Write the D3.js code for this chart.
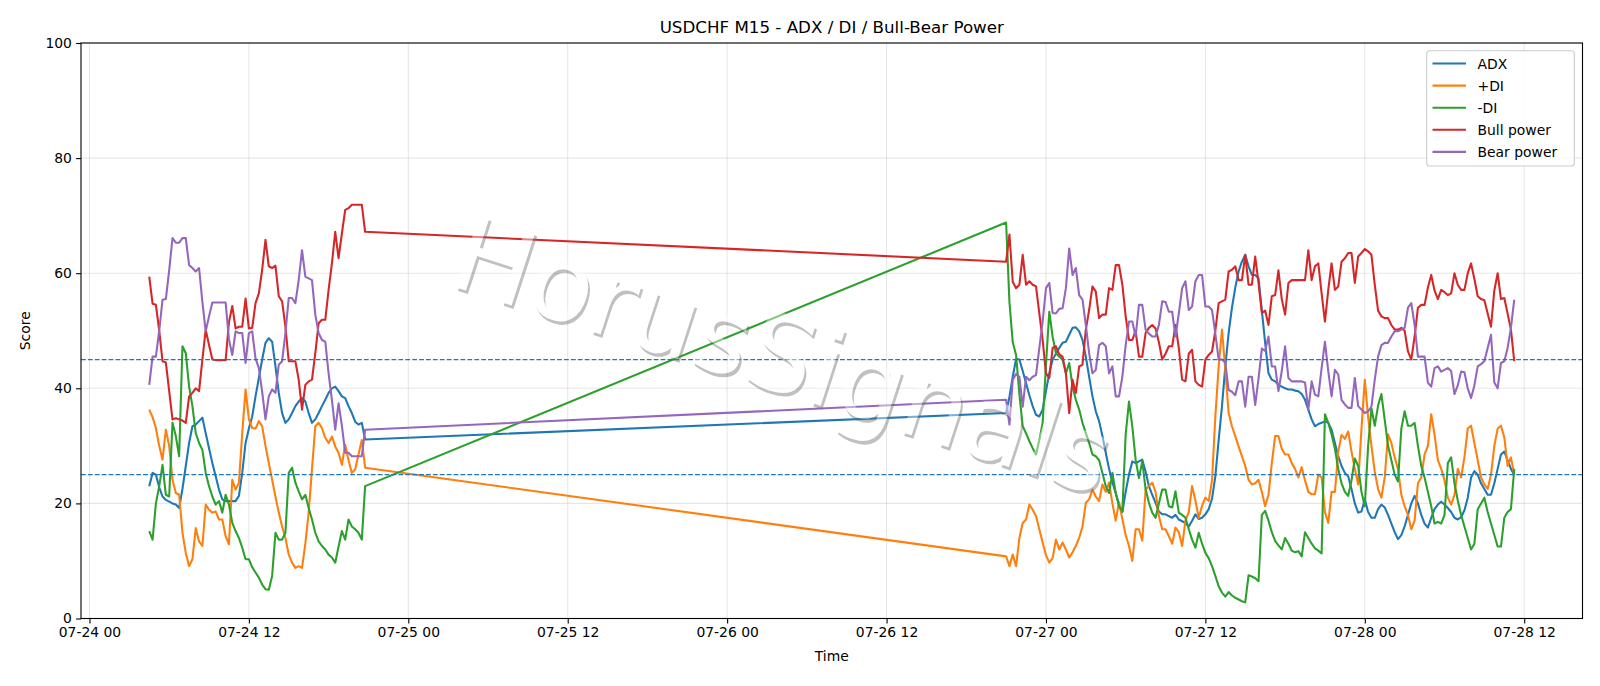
<!DOCTYPE html>
<html>
<head>
<meta charset="utf-8">
<script src="https://cdn.jsdelivr.net/npm/d3@7"></script>
<style>
  html, body { margin: 0; padding: 0; background: #ffffff; }
  svg { display: block; font-family: "DejaVu Sans", sans-serif; }
</style>
</head>
<body>
<svg id="chart" width="1600" height="686"></svg>
<script>
// ---------------- data ----------------
const sessionStarts = ["2025-07-24T04:30:00Z", "2025-07-26T21:00:00Z"];
const barMinutes = 15;

const seriesNames = ["ADX", "+DI", "-DI", "Bull power", "Bear power"];
const seriesColors = ["#1f77b4", "#ff7f0e", "#2ca02c", "#d62728", "#9467bd"];
const thresholdLevels = [45, 25];
const yTickValues = [0, 20, 40, 60, 80, 100];
const watermarkText = "HorusSignals";

// session A (07-24 04:30 .. 20:45)
const adxA = [23.0,25.3,25.0,22.8,21.2,20.6,20.3,20.0,19.8,19.2,
  22.5,26.5,30.5,33.4,33.7,34.3,34.9,32.2,29.6,27.0,
  24.7,22.4,20.7,20.4,20.4,20.4,20.4,21.3,25.3,30.5,
  33.0,35.1,38.6,41.8,45.0,47.9,48.7,48.1,43.8,39.2,
  35.7,34.0,34.6,35.7,36.9,37.7,38.3,37.7,35.7,34.0,
  34.6,35.7,36.9,38.0,39.2,40.0,40.3,39.5,38.6,38.3,
  36.9,35.7,34.2,33.7,34.0,31.1];
const pdiA = [36.3,35.0,33.1,30.0,27.6,32.8,30.0,24.1,21.8,21.5,
  14.9,11.4,9.1,10.3,15.7,13.4,12.6,19.8,18.9,18.4,
  18.6,17.2,17.2,14.3,12.9,24.1,22.4,23.6,32.2,39.8,
  34.6,33.1,33.0,34.3,33.4,30.0,27.0,24.1,21.2,18.4,
  16.0,14.0,11.1,9.7,8.8,9.1,8.8,13.0,18.4,26.0,
  33.4,34.0,33.1,31.4,30.5,31.6,29.9,28.8,26.7,30.2,
  27.5,25.3,25.9,28.5,31.0,26.2];
const mdiA = [15.2,13.7,20.0,23.0,26.7,21.5,21.2,34.0,31.7,28.2,
  47.3,46.1,40.3,36.9,32.2,30.5,29.3,25.3,23.0,21.2,
  19.8,20.4,18.4,21.5,19.8,16.6,15.2,14.0,12.3,10.3,
  10.3,8.9,8.0,7.1,5.9,5.1,5.0,7.4,14.9,13.7,
  13.7,14.9,25.3,26.2,23.6,22.1,20.7,21.5,19.2,17.2,
  14.9,13.4,12.6,12.0,11.1,10.6,9.7,12.5,15.2,13.7,
  17.2,16.0,15.5,14.9,13.7,23.0];
const bullA = [59.4,54.7,54.5,50.0,44.7,44.5,39.5,34.6,34.8,34.6,
  34.4,34.0,38.6,39.2,40.0,39.5,45.0,50.2,47.5,45.0,
  44.9,44.9,44.9,44.9,51.5,54.3,50.4,50.7,50.7,55.6,
  50.4,50.5,54.8,56.5,60.6,65.8,61.2,60.9,61.3,56.0,
  55.1,50.7,44.7,44.7,44.7,41.5,36.3,40.6,41.2,41.5,
  46.1,51.3,51.9,51.9,57.1,61.7,67.2,62.6,66.9,71.0,
  71.3,71.9,71.9,71.9,71.9,67.2];
const bearA = [40.6,45.5,45.5,50.0,55.4,55.5,60.5,66.1,65.3,65.3,
  66.1,66.1,61.4,60.9,60.3,60.9,55.0,49.9,52.5,54.9,
  54.9,54.9,54.9,54.9,48.5,45.8,49.9,49.6,49.6,44.4,
  49.6,49.9,45.2,43.5,39.4,34.6,38.6,39.8,39.2,44.1,
  44.7,49.6,55.7,55.7,54.8,58.8,64.0,59.4,59.1,58.8,
  52.8,49.6,48.4,48.1,42.6,38.0,32.8,37.4,33.5,28.8,
  28.8,28.2,28.2,28.2,28.2,32.8];

// session B (07-26 21:00 .. 07-28 11:15)
const adxB = [35.7,38.5,42.0,45.1,45.0,43.0,40.9,38.8,36.9,35.4,
  35.1,36.3,39.5,42.6,45.0,46.0,47.0,47.9,48.1,49.3,
  50.5,50.6,49.9,48.4,45.5,42.0,38.6,36.0,34.3,31.7,
  28.8,26.0,23.7,21.8,19.8,18.5,22.0,25.0,27.3,27.0,
  27.3,27.6,25.5,23.0,21.5,20.1,18.6,18.1,18.1,17.8,
  17.5,18.0,17.2,16.9,16.6,16.0,17.0,18.1,17.3,17.5,
  18.1,19.0,20.8,24.7,31.0,36.9,43.8,49.6,54.0,57.5,
  60.3,62.0,63.2,61.2,59.7,59.7,59.1,53.5,47.9,42.6,
  41.5,41.2,40.6,40.3,40.0,39.8,39.8,39.6,39.5,39.0,
  38.0,36.3,34.6,33.4,33.8,34.0,34.3,34.0,32.8,30.5,
  28.2,26.5,25.3,24.7,22.5,20.0,18.4,18.6,20.7,18.5,
  17.5,17.5,19.0,19.8,19.3,18.0,16.5,15.0,13.8,14.5,
  16.0,18.0,20.0,21.3,20.0,18.0,16.5,15.8,17.5,19.0,
  19.8,20.3,19.8,19.2,18.5,17.5,17.2,17.6,18.8,21.0,
  24.5,25.6,25.0,23.5,22.5,21.5,21.5,23.5,26.0,28.5,
  29.0,27.5,26.0,25.0];
const pdiB = [10.8,9.1,11.1,9.1,14.0,16.6,17.2,19.8,18.9,17.8,
  15.5,13.2,11.0,9.7,10.5,13.7,12.0,13.2,12.0,10.6,
  11.5,12.6,14.0,16.0,20.1,20.7,22.4,21.2,20.4,23.3,
  22.0,23.6,20.0,17.0,20.2,17.3,14.5,12.6,10.0,15.5,
  15.5,13.5,22.4,23.0,23.6,22.0,17.8,15.5,15.5,14.3,
  13.0,15.8,15.0,12.6,17.0,18.5,23.0,20.5,17.5,19.6,
  21.0,20.4,24.0,35.1,43.8,50.2,43.2,35.7,33.4,31.7,
  29.9,28.2,26.5,24.1,23.3,23.5,24.1,22.0,19.5,21.5,
  27.0,31.7,31.7,29.5,28.5,28.5,27.0,26.0,24.5,26.3,
  24.0,22.0,21.6,21.6,25.0,24.5,18.5,16.6,22.0,22.0,
  29.0,31.9,31.2,32.5,29.0,26.0,23.3,33.0,41.5,35.0,
  30.0,25.5,22.5,21.0,24.5,32.0,30.5,28.0,26.0,21.5,
  19.5,18.0,15.5,17.0,23.5,24.5,28.5,30.0,35.5,32.0,
  27.5,26.0,24.0,21.0,19.8,21.5,26.0,24.5,28.0,33.0,
  33.5,30.5,27.5,24.5,23.3,22.5,25.0,30.0,33.0,33.5,
  31.5,26.5,28.0,25.0];
const mdiB = [68.8,55.0,48.0,45.8,39.0,33.4,32.2,30.8,29.6,28.5,
  31.0,34.0,44.0,53.3,49.0,46.1,45.5,45.0,42.6,44.4,
  40.3,38.0,36.3,34.0,32.2,30.5,28.5,28.2,27.5,25.3,
  23.0,21.8,25.3,21.8,19.5,18.6,32.0,37.7,33.4,27.6,
  24.4,27.3,22.5,20.1,18.4,17.5,20.0,22.4,22.4,19.5,
  19.3,22.1,18.4,18.0,17.5,15.5,13.7,12.3,14.9,13.0,
  11.4,10.5,9.1,7.4,5.6,4.5,3.8,4.6,4.0,3.6,
  3.3,3.0,2.8,7.5,7.3,7.0,6.5,18.0,18.7,17.0,
  15.0,13.5,12.7,12.0,14.0,13.0,11.8,11.5,11.7,10.8,
  15.0,14.0,13.0,12.2,11.8,11.3,35.5,34.0,32.0,29.5,
  26.0,23.5,22.0,21.3,24.0,27.8,26.5,22.0,19.5,30.0,
  36.5,33.5,37.0,39.0,34.5,30.0,27.5,25.0,23.8,33.0,
  36.0,33.5,33.5,34.0,30.0,26.5,24.5,22.0,19.5,16.5,
  16.8,16.5,18.0,27.0,28.0,23.5,20.5,18.0,16.0,14.0,
  12.0,13.0,19.0,20.0,21.0,18.5,16.5,14.5,12.5,12.5,
  17.5,18.5,19.0,26.0];
const bullB = [62.0,66.7,58.5,57.4,58.0,63.2,58.0,58.6,58.0,57.7,
  53.0,48.4,42.6,41.8,47.0,47.3,45.9,45.5,42.6,35.7,
  41.5,39.2,43.8,44.1,50.2,53.6,57.7,56.8,52.2,52.8,
  52.8,57.4,57.1,61.4,61.4,58.0,52.5,48.4,48.4,50.0,
  45.5,45.5,49.6,50.5,51.0,50.4,48.0,45.0,46.0,47.3,
  47.3,51.0,47.0,41.5,41.2,46.0,46.7,41.2,40.6,40.3,
  45.0,45.8,46.4,50.0,54.8,55.1,55.4,60.3,60.6,61.2,
  58.8,58.8,63.2,58.0,58.0,62.9,58.3,53.1,53.5,51.0,
  56.0,56.2,60.5,55.5,52.8,58.3,58.8,58.8,58.8,58.8,
  58.8,64.0,58.8,61.2,61.7,56.5,51.6,57.1,61.7,57.1,
  57.7,62.0,62.6,63.5,63.5,58.3,62.9,63.5,64.2,63.8,
  63.2,58.0,53.5,52.5,52.2,52.2,51.0,50.2,50.2,50.5,
  50.0,46.4,45.0,49.0,54.0,54.5,54.5,57.5,59.7,57.0,
  55.5,57.1,56.7,56.2,56.5,60.0,58.0,57.1,57.1,60.0,
  61.7,59.0,56.0,55.5,55.3,53.0,50.7,57.0,60.0,55.5,
  55.7,53.0,50.2,44.7];
const bearB = [38.0,33.7,41.5,42.5,42.0,36.8,42.0,41.4,42.0,42.3,
  47.0,51.6,57.4,58.3,53.1,53.0,53.8,53.9,57.4,64.3,
  59.7,60.9,56.2,55.4,51.0,46.1,42.6,43.2,47.5,47.9,
  47.3,42.6,43.8,38.6,38.6,42.0,47.5,51.6,51.6,49.0,
  54.5,54.5,50.2,49.5,49.0,49.0,51.0,55.1,55.0,53.3,
  53.3,49.0,53.0,57.4,58.6,53.6,54.2,58.6,59.7,59.7,
  54.2,54.2,53.6,49.5,45.0,45.0,44.5,39.7,39.4,38.8,
  41.2,41.2,36.8,42.0,42.0,37.1,41.7,46.9,46.5,49.0,
  43.8,43.8,39.5,43.0,47.3,41.8,41.2,41.2,41.2,41.2,
  41.0,36.3,41.2,38.9,38.6,43.5,48.1,43.0,38.6,43.2,
  42.4,38.0,37.2,36.6,36.6,41.8,36.9,36.3,35.7,36.0,
  36.8,41.5,45.5,47.5,47.9,47.9,49.0,49.9,49.9,50.2,
  50.5,54.0,54.8,51.0,45.5,45.5,45.5,41.0,40.3,43.5,
  43.8,42.9,43.2,43.5,43.0,39.0,40.5,42.9,42.8,40.0,
  38.3,40.5,43.8,44.2,44.7,47.0,49.3,41.0,40.0,44.4,
  44.7,47.0,50.5,55.4];

// ---------------- build ----------------
const sessionA = [adxA, pdiA, mdiA, bullA, bearA];
const sessionB = [adxB, pdiB, mdiB, bullB, bearB];

function sessionTimes(startIso, n) {
  const t0 = new Date(startIso);
  return d3.range(n).map(k => d3.utcMinute.offset(t0, k * barMinutes));
}
const timesA = sessionTimes(sessionStarts[0], adxA.length);
const timesB = sessionTimes(sessionStarts[1], adxB.length);
const times = timesA.concat(timesB);

const series = seriesNames.map((name, s) => ({
  name, color: seriesColors[s],
  values: sessionA[s].concat(sessionB[s]).map((v, k) => ({ t: times[k], v }))
}));

const W = 1600, H = 686;
const M = { left: 81, right: 1582.5, top: 43, bottom: 618.5 };

const tMin = times[0], tMax = times[times.length - 1];
const span = tMax - tMin;
const x = d3.scaleUtc()
  .domain([new Date(+tMin - span * 0.05), new Date(+tMax + span * 0.05)])
  .range([M.left, M.right]);
const y = d3.scaleLinear().domain([0, 100]).range([M.bottom, M.top]);

const svg = d3.select("#chart");
svg.append("rect").attr("width", W).attr("height", H).attr("fill", "#ffffff");

const xTicks = d3.utcHour.every(12).range(x.domain()[0], x.domain()[1]);

// grid
const grid = svg.append("g").attr("stroke", "#b0b0b0").attr("stroke-opacity", 0.3).attr("stroke-width", 1.1);
grid.selectAll("line.gx").data(xTicks).join("line")
  .attr("x1", d => x(d)).attr("x2", d => x(d)).attr("y1", M.top).attr("y2", M.bottom);
grid.selectAll("line.gy").data(yTickValues).join("line")
  .attr("y1", d => y(d)).attr("y2", d => y(d)).attr("x1", M.left).attr("x2", M.right);

// lines
const line = d3.line().x(d => x(d.t)).y(d => y(d.v));
svg.append("g").selectAll("path").data(series).join("path")
  .attr("d", d => line(d.values))
  .attr("fill", "none")
  .attr("stroke", d => d.color)
  .attr("stroke-width", 2.08)
  .attr("stroke-linejoin", "round")
  .attr("stroke-linecap", "butt");

// threshold lines
svg.append("g").selectAll("line").data(thresholdLevels).join("line")
  .attr("x1", M.left).attr("x2", M.right)
  .attr("y1", d => y(d)).attr("y2", d => y(d))
  .attr("stroke", "#1f77b4").attr("stroke-width", 1.3)
  .attr("stroke-dasharray", "4.8,2.1");

// watermark (white letters with a grey drop shadow, semi-transparent, on top)
const wm = svg.append("g")
  .attr("opacity", 0.42)
  .attr("transform", "translate(772,390) rotate(18)");
wm.append("text")
  .attr("x", 2.8).attr("y", 2.8)
  .attr("text-anchor", "middle")
  .attr("font-size", 105)
  .attr("fill", "#6a6a6a")
  .text(watermarkText);
wm.append("text")
  .attr("text-anchor", "middle")
  .attr("font-size", 105)
  .attr("fill", "#ffffff")
  .text(watermarkText);

// axes
const xAxis = d3.axisBottom(x).tickValues(xTicks).tickFormat(d3.utcFormat("%m-%d %H"))
  .tickSizeInner(4.9).tickSizeOuter(0).tickPadding(4.2);
const gx = svg.append("g").attr("transform", `translate(0,${M.bottom})`).call(xAxis);
const yAxis = d3.axisLeft(y).tickValues(yTickValues).tickFormat(d3.format("d"))
  .tickSizeInner(4.9).tickSizeOuter(0).tickPadding(4.2);
const gy = svg.append("g").attr("transform", `translate(${M.left},0)`).call(yAxis);
[gx, gy].forEach(g => {
  g.select(".domain").remove();
  g.selectAll(".tick line").attr("stroke", "#000").attr("stroke-width", 1.1);
  g.selectAll(".tick text").attr("fill", "#000").attr("font-size", 13.9)
    .attr("font-family", "DejaVu Sans, sans-serif");
});

// spines
svg.append("rect")
  .attr("x", M.left).attr("y", M.top)
  .attr("width", M.right - M.left).attr("height", M.bottom - M.top)
  .attr("fill", "none").attr("stroke", "#000").attr("stroke-width", 1.1);

// title and labels
svg.append("text").attr("x", (M.left + M.right) / 2).attr("y", 32.5)
  .attr("text-anchor", "middle").attr("font-size", 16.7).attr("fill", "#000")
  .text("USDCHF M15 - ADX / DI / Bull-Bear Power");
svg.append("text").attr("x", (M.left + M.right) / 2).attr("y", 661)
  .attr("text-anchor", "middle").attr("font-size", 13.9).attr("fill", "#000")
  .text("Time");
svg.append("text")
  .attr("transform", `translate(29.5,${(M.top + M.bottom) / 2}) rotate(-90)`)
  .attr("text-anchor", "middle").attr("font-size", 13.9).attr("fill", "#000")
  .text("Score");

// legend
const lg = svg.append("g");
lg.append("rect").attr("x", 1426.7).attr("y", 50.7).attr("width", 147.6).attr("height", 115.3)
  .attr("rx", 3).attr("fill", "#ffffff").attr("fill-opacity", 0.8)
  .attr("stroke", "#cccccc").attr("stroke-width", 1.1);
const items = lg.selectAll("g.item").data(series).join("g")
  .attr("transform", (d, k) => `translate(0,${63.5 + k * 22.1})`);
items.append("line").attr("x1", 1432.5).attr("x2", 1466).attr("y1", 0).attr("y2", 0)
  .attr("stroke", d => d.color).attr("stroke-width", 2.08);
items.append("text").attr("x", 1477.5).attr("y", 0).attr("dy", "0.36em")
  .attr("font-size", 13.9).attr("fill", "#000").text(d => d.name);
</script>
</body>
</html>
